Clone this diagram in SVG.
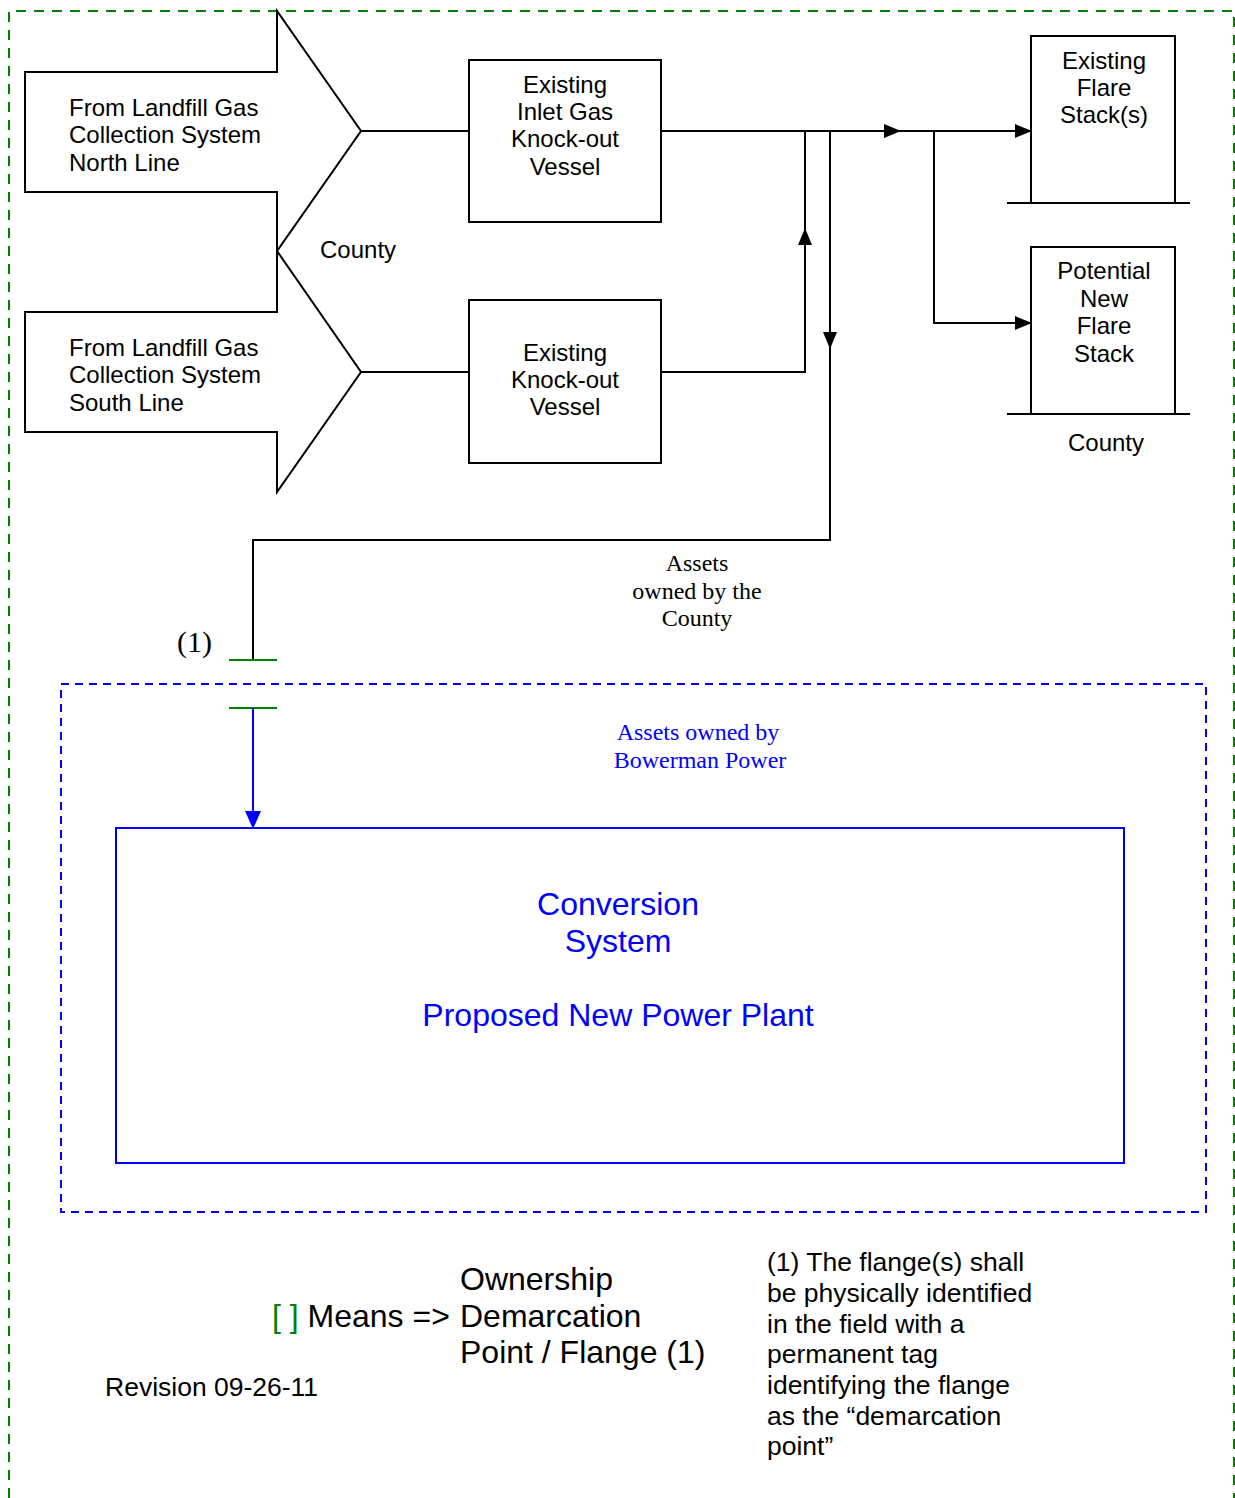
<svg xmlns="http://www.w3.org/2000/svg" width="1235" height="1498" viewBox="0 0 1235 1498">
<style>
.a{font-family:"Liberation Sans",Arial,sans-serif;font-size:24px;fill:#000}
.c{text-anchor:middle}
.t{font-family:"Liberation Serif","Times New Roman",serif;font-size:24px;fill:#000}
.k{fill:none;stroke:#000;stroke-width:2}
.bl{fill:#0000ff}
</style>
<defs>
<marker id="ah" markerWidth="17" markerHeight="14" refX="16" refY="7" orient="auto" markerUnits="userSpaceOnUse">
<path d="M0,0 L17,7 L0,14 Z" fill="#000"/>
</marker>
<marker id="ahb" markerWidth="18" markerHeight="16" refX="17" refY="8" orient="auto" markerUnits="userSpaceOnUse">
<path d="M0,0 L18,8 L0,16 Z" fill="#0000ff"/>
</marker>
</defs>
<rect width="1235" height="1498" fill="#fff"/>
<g id="boundary-county">
<path d="M9,1498 L9,11 L1234,11 L1234,1498" fill="none" stroke="#008000" stroke-width="2" stroke-dasharray="10,8"/>
</g>
<g id="boundary-bowerman">
<rect x="61" y="684" width="1145" height="528" fill="none" stroke="#0000ff" stroke-width="2" stroke-dasharray="8,6"/>
</g>
<g id="north-line">
<polygon points="25,72 277,72 277,11 361,131 277,251 277,192 25,192" class="k" fill="#fff"/>
<text class="a" x="69" y="116">From Landfill Gas</text>
<text class="a" x="69" y="143">Collection System</text>
<text class="a" x="69" y="171">North Line</text>
</g>
<g id="south-line">
<polygon points="25,312 277,312 277,251 361,372 277,492 277,432 25,432" class="k" fill="#fff"/>
<text class="a" x="69" y="356">From Landfill Gas</text>
<text class="a" x="69" y="383">Collection System</text>
<text class="a" x="69" y="411">South Line</text>
</g>
<g id="county-label">
<text class="a" x="320" y="258">County</text>
</g>
<g id="inlet-ko">
<rect x="469" y="60" width="192" height="162" class="k" fill="#fff"/>
<text class="a c" x="565" y="93">Existing</text>
<text class="a c" x="565" y="120">Inlet Gas</text>
<text class="a c" x="565" y="147">Knock-out</text>
<text class="a c" x="565" y="175">Vessel</text>
</g>
<g id="ko">
<rect x="469" y="300" width="192" height="163" class="k" fill="#fff"/>
<text class="a c" x="565" y="361">Existing</text>
<text class="a c" x="565" y="388">Knock-out</text>
<text class="a c" x="565" y="415">Vessel</text>
</g>
<g id="existing-flare">
<path d="M1031,203 L1031,36 L1175,36 L1175,203" class="k"/>
<line x1="1007" y1="203" x2="1190" y2="203" class="k"/>
<text class="a c" x="1104" y="69">Existing</text>
<text class="a c" x="1104" y="96">Flare</text>
<text class="a c" x="1104" y="123">Stack(s)</text>
</g>
<g id="potential-flare">
<path d="M1031,414 L1031,247 L1175,247 L1175,414" class="k"/>
<line x1="1007" y1="414" x2="1190" y2="414" class="k"/>
<text class="a c" x="1104" y="279">Potential</text>
<text class="a c" x="1104" y="307">New</text>
<text class="a c" x="1104" y="334">Flare</text>
<text class="a c" x="1104" y="362">Stack</text>
<text class="a c" x="1106" y="451">County</text>
</g>
<g id="county-assets-label">
<text class="t c" x="697" y="571">Assets</text>
<text class="t c" x="697" y="599">owned by the</text>
<text class="t c" x="697" y="626">County</text>
<text class="t" x="177" y="652" style="font-size:30px">(1)</text>
</g>
<g id="bowerman-label">
<text class="t c bl" x="698" y="740">Assets owned by</text>
<text class="t c bl" x="700" y="768">Bowerman Power</text>
</g>
<g id="conversion-system">
<rect x="116" y="828" width="1008" height="335" fill="none" stroke="#0000ff" stroke-width="2"/>
<text class="a c bl" x="618" y="915" style="font-size:32px">Conversion</text>
<text class="a c bl" x="618" y="952" style="font-size:32px">System</text>
<text class="a c bl" x="618" y="1026" style="font-size:32px">Proposed New Power Plant</text>
</g>
<g id="legend">
<text class="a" x="272" y="1327" style="font-size:32px"><tspan fill="#008000">[ ]</tspan> Means =&gt;</text>
<text class="a" x="460" y="1290" style="font-size:32px">Ownership</text>
<text class="a" x="460" y="1327" style="font-size:32px">Demarcation</text>
<text class="a" x="460" y="1363" style="font-size:32px">Point / Flange (1)</text>
<text class="a" x="105" y="1396" style="font-size:26.5px">Revision 09-26-11</text>
</g>
<g id="note" class="a" style="font-size:26.5px">
<text x="767" y="1271">(1) The flange(s) shall</text>
<text x="767" y="1302">be physically identified</text>
<text x="767" y="1333">in the field with a</text>
<text x="767" y="1363">permanent tag</text>
<text x="767" y="1394">identifying the flange</text>
<text x="767" y="1425">as the “demarcation</text>
<text x="767" y="1455">point”</text>
</g>
<g id="connectors">
<line x1="361" y1="131" x2="469" y2="131" class="k"/>
<line x1="361" y1="372" x2="469" y2="372" class="k"/>
<line x1="661" y1="131" x2="900" y2="131" class="k" marker-end="url(#ah)"/>
<line x1="900" y1="131" x2="934" y2="131" class="k"/>
<line x1="934" y1="131" x2="1031" y2="131" class="k" marker-end="url(#ah)"/>
<polyline points="934,131 934,323 1031,323" class="k" marker-end="url(#ah)"/>
<polyline points="661,372 805,372 805,229" class="k" marker-end="url(#ah)"/>
<line x1="805" y1="229" x2="805" y2="131" class="k"/>
<line x1="830" y1="131" x2="830" y2="348" class="k" marker-end="url(#ah)"/>
<polyline points="830,348 830,540 253,540 253,660" class="k"/>
<line x1="229" y1="660" x2="277" y2="660" stroke="#008000" stroke-width="2"/>
<line x1="229" y1="708" x2="277" y2="708" stroke="#008000" stroke-width="2"/>
<line x1="253" y1="708" x2="253" y2="828" stroke="#0000ff" stroke-width="2" marker-end="url(#ahb)"/>
</g>
</svg>
